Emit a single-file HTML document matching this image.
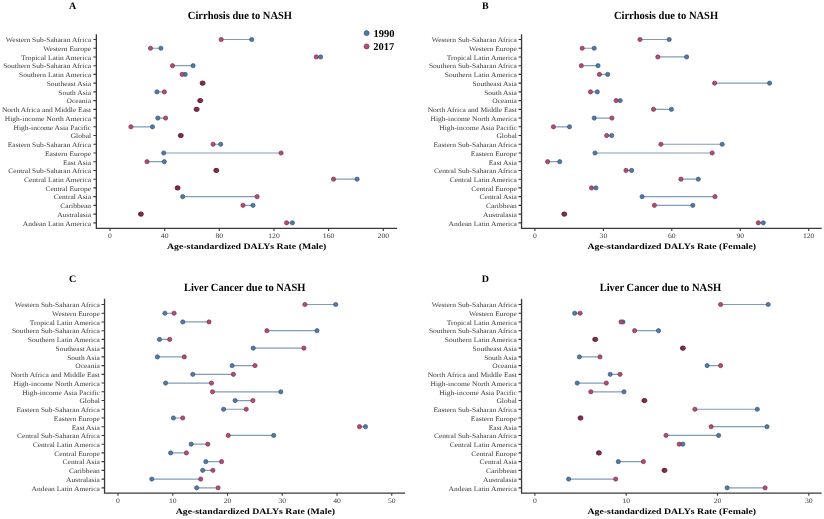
<!DOCTYPE html>
<html><head><meta charset="utf-8"><title>NASH DALYs</title>
<style>
html,body{margin:0;padding:0;background:#fff;}
body{width:824px;height:519px;overflow:hidden;}
svg{display:block;will-change:transform;}
text{font-family:"Liberation Serif","Times New Roman",serif;text-rendering:geometricPrecision;}
.pl{font-size:10px;font-weight:bold;fill:#000;text-anchor:middle;}
.ti{font-size:10.5px;font-weight:bold;fill:#000;text-anchor:middle;}
.yl{font-size:7.5px;fill:#3a3a3a;text-anchor:end;}
.xl{font-size:7.7px;fill:#3a3a3a;text-anchor:middle;}
.xt{font-size:9.8px;font-weight:bold;fill:#000;text-anchor:middle;}
.lg{font-size:10.5px;font-weight:bold;fill:#000;}
.ax{fill:none;stroke:#383838;stroke-width:1.3;}
.tk{fill:none;stroke:#383838;stroke-width:1.1;}
.sg{fill:none;stroke:#819cbb;stroke-width:1.2;}
.bl{fill:#5479a3;stroke:#33547e;stroke-width:0.7;}
.rd{fill:#ad5073;stroke:#7c2b4b;stroke-width:0.7;}
.ov{fill:#84304f;stroke:#5c1a36;stroke-width:0.7;}
</style></head>
<body>
<svg width="824" height="519" viewBox="0 0 824 519">
<text x="72.6" y="9.2" class="pl">A</text>
<text transform="matrix(1 0 0 1.06 239.9 19.2)" class="ti">Cirrhosis due to NASH</text>
<path d="M96.35 34.3V228.3H397" class="ax"/>
<text transform="matrix(1 0 0 0.9 91.05 42.3)" class="yl">Western Sub-Saharan Africa</text>
<text transform="matrix(1 0 0 0.9 91.05 51.03)" class="yl">Western Europe</text>
<text transform="matrix(1 0 0 0.9 91.05 59.76)" class="yl">Tropical Latin America</text>
<text transform="matrix(1 0 0 0.9 91.05 68.49)" class="yl">Southern Sub-Saharan Africa</text>
<text transform="matrix(1 0 0 0.9 91.05 77.22)" class="yl">Southern Latin America</text>
<text transform="matrix(1 0 0 0.9 91.05 85.95)" class="yl">Southeast Asia</text>
<text transform="matrix(1 0 0 0.9 91.05 94.68)" class="yl">South Asia</text>
<text transform="matrix(1 0 0 0.9 91.05 103.41)" class="yl">Oceania</text>
<text transform="matrix(1 0 0 0.9 91.05 112.14)" class="yl">North Africa and Middle East</text>
<text transform="matrix(1 0 0 0.9 91.05 120.87)" class="yl">High-income North America</text>
<text transform="matrix(1 0 0 0.9 91.05 129.6)" class="yl">High-income Asia Pacific</text>
<text transform="matrix(1 0 0 0.9 91.05 138.33)" class="yl">Global</text>
<text transform="matrix(1 0 0 0.9 91.05 147.06)" class="yl">Eastern Sub-Saharan Africa</text>
<text transform="matrix(1 0 0 0.9 91.05 155.79)" class="yl">Eastern Europe</text>
<text transform="matrix(1 0 0 0.9 91.05 164.52)" class="yl">East Asia</text>
<text transform="matrix(1 0 0 0.9 91.05 173.25)" class="yl">Central Sub-Saharan Africa</text>
<text transform="matrix(1 0 0 0.9 91.05 181.98)" class="yl">Central Latin America</text>
<text transform="matrix(1 0 0 0.9 91.05 190.71)" class="yl">Central Europe</text>
<text transform="matrix(1 0 0 0.9 91.05 199.44)" class="yl">Central Asia</text>
<text transform="matrix(1 0 0 0.9 91.05 208.17)" class="yl">Caribbean</text>
<text transform="matrix(1 0 0 0.9 91.05 216.9)" class="yl">Australasia</text>
<text transform="matrix(1 0 0 0.9 91.05 225.63)" class="yl">Andean Latin America</text>
<text transform="matrix(1 0 0 0.88 110 238.3)" class="xl">0</text>
<text transform="matrix(1 0 0 0.88 164.7 238.3)" class="xl">40</text>
<text transform="matrix(1 0 0 0.88 219.3 238.3)" class="xl">80</text>
<text transform="matrix(1 0 0 0.88 274 238.3)" class="xl">120</text>
<text transform="matrix(1 0 0 0.88 328.6 238.3)" class="xl">160</text>
<text transform="matrix(1 0 0 0.88 383.3 238.3)" class="xl">200</text>
<path d="M93.35 39.5H96.35M93.35 48.23H96.35M93.35 56.96H96.35M93.35 65.69H96.35M93.35 74.42H96.35M93.35 83.15H96.35M93.35 91.88H96.35M93.35 100.61H96.35M93.35 109.34H96.35M93.35 118.07H96.35M93.35 126.8H96.35M93.35 135.53H96.35M93.35 144.26H96.35M93.35 152.99H96.35M93.35 161.72H96.35M93.35 170.45H96.35M93.35 179.18H96.35M93.35 187.91H96.35M93.35 196.64H96.35M93.35 205.37H96.35M93.35 214.1H96.35M93.35 222.83H96.35M110 228.3v2.7M164.7 228.3v2.7M219.3 228.3v2.7M274 228.3v2.7M328.6 228.3v2.7M383.3 228.3v2.7" class="tk"/>
<text transform="matrix(1 0 0 0.86 246.7 249.2)" class="xt">Age-standardized DALYs Rate (Male)</text>
<path d="M221.2 39.5H251.7M150.5 48.23H160.9M316.3 56.96H320.6M172.5 65.69H193.1M182.1 74.42H185.2M156.9 91.88H164.4M195.8 109.34H197.5M157.8 118.07H165.6M130.9 126.8H152.5M213.1 144.26H220.7M163.7 152.99H281.1M147 161.72H164.3M333.5 179.18H357.1M182.7 196.64H257.1M243 205.37H253M286.6 222.83H292.4" class="sg"/>
<circle cx="251.7" cy="39.5" r="2.1" class="bl"/>
<circle cx="221.2" cy="39.5" r="2.1" class="rd"/>
<circle cx="160.9" cy="48.23" r="2.1" class="bl"/>
<circle cx="150.5" cy="48.23" r="2.1" class="rd"/>
<circle cx="320.6" cy="56.96" r="2.1" class="bl"/>
<circle cx="316.3" cy="56.96" r="2.1" class="rd"/>
<circle cx="193.1" cy="65.69" r="2.1" class="bl"/>
<circle cx="172.5" cy="65.69" r="2.1" class="rd"/>
<circle cx="185.2" cy="74.42" r="2.1" class="bl"/>
<circle cx="182.1" cy="74.42" r="2.1" class="rd"/>
<circle cx="202.15" cy="83.15" r="2.1" class="ov"/><circle cx="203.05" cy="83.15" r="2.1" class="ov"/>
<circle cx="156.9" cy="91.88" r="2.1" class="bl"/>
<circle cx="164.4" cy="91.88" r="2.1" class="rd"/>
<circle cx="199.75" cy="100.61" r="2.1" class="ov"/><circle cx="200.65" cy="100.61" r="2.1" class="ov"/>
<circle cx="196.2" cy="109.34" r="2.1" class="ov"/><circle cx="197.1" cy="109.34" r="2.1" class="ov"/>
<circle cx="157.8" cy="118.07" r="2.1" class="bl"/>
<circle cx="165.6" cy="118.07" r="2.1" class="rd"/>
<circle cx="152.5" cy="126.8" r="2.1" class="bl"/>
<circle cx="130.9" cy="126.8" r="2.1" class="rd"/>
<circle cx="180.35" cy="135.53" r="2.1" class="ov"/><circle cx="181.25" cy="135.53" r="2.1" class="ov"/>
<circle cx="220.7" cy="144.26" r="2.1" class="bl"/>
<circle cx="213.1" cy="144.26" r="2.1" class="rd"/>
<circle cx="163.7" cy="152.99" r="2.1" class="bl"/>
<circle cx="281.1" cy="152.99" r="2.1" class="rd"/>
<circle cx="164.3" cy="161.72" r="2.1" class="bl"/>
<circle cx="147" cy="161.72" r="2.1" class="rd"/>
<circle cx="215.85" cy="170.45" r="2.1" class="ov"/><circle cx="216.75" cy="170.45" r="2.1" class="ov"/>
<circle cx="357.1" cy="179.18" r="2.1" class="bl"/>
<circle cx="333.5" cy="179.18" r="2.1" class="rd"/>
<circle cx="177.15" cy="187.91" r="2.1" class="ov"/><circle cx="178.05" cy="187.91" r="2.1" class="ov"/>
<circle cx="182.7" cy="196.64" r="2.1" class="bl"/>
<circle cx="257.1" cy="196.64" r="2.1" class="rd"/>
<circle cx="253" cy="205.37" r="2.1" class="bl"/>
<circle cx="243" cy="205.37" r="2.1" class="rd"/>
<circle cx="140.45" cy="214.1" r="2.1" class="ov"/><circle cx="141.35" cy="214.1" r="2.1" class="ov"/>
<circle cx="292.4" cy="222.83" r="2.1" class="bl"/>
<circle cx="286.6" cy="222.83" r="2.1" class="rd"/>
<text x="485.4" y="9.2" class="pl">B</text>
<text transform="matrix(1 0 0 1.06 666 19.0)" class="ti">Cirrhosis due to NASH</text>
<path d="M521.55 34.3V228.3H821.7" class="ax"/>
<text transform="matrix(1 0 0 0.9 516.85 42.3)" class="yl">Western Sub-Saharan Africa</text>
<text transform="matrix(1 0 0 0.9 516.85 51.03)" class="yl">Western Europe</text>
<text transform="matrix(1 0 0 0.9 516.85 59.76)" class="yl">Tropical Latin America</text>
<text transform="matrix(1 0 0 0.9 516.85 68.49)" class="yl">Southern Sub-Saharan Africa</text>
<text transform="matrix(1 0 0 0.9 516.85 77.22)" class="yl">Southern Latin America</text>
<text transform="matrix(1 0 0 0.9 516.85 85.95)" class="yl">Southeast Asia</text>
<text transform="matrix(1 0 0 0.9 516.85 94.68)" class="yl">South Asia</text>
<text transform="matrix(1 0 0 0.9 516.85 103.41)" class="yl">Oceania</text>
<text transform="matrix(1 0 0 0.9 516.85 112.14)" class="yl">North Africa and Middle East</text>
<text transform="matrix(1 0 0 0.9 516.85 120.87)" class="yl">High-income North America</text>
<text transform="matrix(1 0 0 0.9 516.85 129.6)" class="yl">High-income Asia Pacific</text>
<text transform="matrix(1 0 0 0.9 516.85 138.33)" class="yl">Global</text>
<text transform="matrix(1 0 0 0.9 516.85 147.06)" class="yl">Eastern Sub-Saharan Africa</text>
<text transform="matrix(1 0 0 0.9 516.85 155.79)" class="yl">Eastern Europe</text>
<text transform="matrix(1 0 0 0.9 516.85 164.52)" class="yl">East Asia</text>
<text transform="matrix(1 0 0 0.9 516.85 173.25)" class="yl">Central Sub-Saharan Africa</text>
<text transform="matrix(1 0 0 0.9 516.85 181.98)" class="yl">Central Latin America</text>
<text transform="matrix(1 0 0 0.9 516.85 190.71)" class="yl">Central Europe</text>
<text transform="matrix(1 0 0 0.9 516.85 199.44)" class="yl">Central Asia</text>
<text transform="matrix(1 0 0 0.9 516.85 208.17)" class="yl">Caribbean</text>
<text transform="matrix(1 0 0 0.9 516.85 216.9)" class="yl">Australasia</text>
<text transform="matrix(1 0 0 0.9 516.85 225.63)" class="yl">Andean Latin America</text>
<text transform="matrix(1 0 0 0.88 534.9 238.3)" class="xl">0</text>
<text transform="matrix(1 0 0 0.88 603.4 238.3)" class="xl">30</text>
<text transform="matrix(1 0 0 0.88 671.8 238.3)" class="xl">60</text>
<text transform="matrix(1 0 0 0.88 740.3 238.3)" class="xl">90</text>
<text transform="matrix(1 0 0 0.88 808.7 238.3)" class="xl">120</text>
<path d="M518.55 39.5H521.55M518.55 48.23H521.55M518.55 56.96H521.55M518.55 65.69H521.55M518.55 74.42H521.55M518.55 83.15H521.55M518.55 91.88H521.55M518.55 100.61H521.55M518.55 109.34H521.55M518.55 118.07H521.55M518.55 126.8H521.55M518.55 135.53H521.55M518.55 144.26H521.55M518.55 152.99H521.55M518.55 161.72H521.55M518.55 170.45H521.55M518.55 179.18H521.55M518.55 187.91H521.55M518.55 196.64H521.55M518.55 205.37H521.55M518.55 214.1H521.55M518.55 222.83H521.55M534.9 228.3v2.7M603.4 228.3v2.7M671.8 228.3v2.7M740.3 228.3v2.7M808.7 228.3v2.7" class="tk"/>
<text transform="matrix(1 0 0 0.86 671.8 249.2)" class="xt">Age-standardized DALYs Rate (Female)</text>
<path d="M640 39.5H669.2M582.2 48.23H594.2M657.8 56.96H686.6M581.3 65.69H598M599.4 74.42H607.7M714.6 83.15H769.6M590.5 91.88H597.3M616.1 100.61H620.2M653.5 109.34H671.4M594.2 118.07H611.9M553.4 126.8H569.5M606.7 135.53H611.7M660.9 144.26H722.2M595 152.99H712.2M547.6 161.72H559.7M626 170.45H631.6M680.9 179.18H698.3M591.5 187.91H596M642.1 196.64H715M654.4 205.37H692.8M758.3 222.83H763.3" class="sg"/>
<circle cx="669.2" cy="39.5" r="2.1" class="bl"/>
<circle cx="640" cy="39.5" r="2.1" class="rd"/>
<circle cx="594.2" cy="48.23" r="2.1" class="bl"/>
<circle cx="582.2" cy="48.23" r="2.1" class="rd"/>
<circle cx="686.6" cy="56.96" r="2.1" class="bl"/>
<circle cx="657.8" cy="56.96" r="2.1" class="rd"/>
<circle cx="598" cy="65.69" r="2.1" class="bl"/>
<circle cx="581.3" cy="65.69" r="2.1" class="rd"/>
<circle cx="607.7" cy="74.42" r="2.1" class="bl"/>
<circle cx="599.4" cy="74.42" r="2.1" class="rd"/>
<circle cx="769.6" cy="83.15" r="2.1" class="bl"/>
<circle cx="714.6" cy="83.15" r="2.1" class="rd"/>
<circle cx="597.3" cy="91.88" r="2.1" class="bl"/>
<circle cx="590.5" cy="91.88" r="2.1" class="rd"/>
<circle cx="620.2" cy="100.61" r="2.1" class="bl"/>
<circle cx="616.1" cy="100.61" r="2.1" class="rd"/>
<circle cx="671.4" cy="109.34" r="2.1" class="bl"/>
<circle cx="653.5" cy="109.34" r="2.1" class="rd"/>
<circle cx="594.2" cy="118.07" r="2.1" class="bl"/>
<circle cx="611.9" cy="118.07" r="2.1" class="rd"/>
<circle cx="569.5" cy="126.8" r="2.1" class="bl"/>
<circle cx="553.4" cy="126.8" r="2.1" class="rd"/>
<circle cx="611.7" cy="135.53" r="2.1" class="bl"/>
<circle cx="606.7" cy="135.53" r="2.1" class="rd"/>
<circle cx="722.2" cy="144.26" r="2.1" class="bl"/>
<circle cx="660.9" cy="144.26" r="2.1" class="rd"/>
<circle cx="595" cy="152.99" r="2.1" class="bl"/>
<circle cx="712.2" cy="152.99" r="2.1" class="rd"/>
<circle cx="559.7" cy="161.72" r="2.1" class="bl"/>
<circle cx="547.6" cy="161.72" r="2.1" class="rd"/>
<circle cx="631.6" cy="170.45" r="2.1" class="bl"/>
<circle cx="626" cy="170.45" r="2.1" class="rd"/>
<circle cx="698.3" cy="179.18" r="2.1" class="bl"/>
<circle cx="680.9" cy="179.18" r="2.1" class="rd"/>
<circle cx="596" cy="187.91" r="2.1" class="bl"/>
<circle cx="591.5" cy="187.91" r="2.1" class="rd"/>
<circle cx="642.1" cy="196.64" r="2.1" class="bl"/>
<circle cx="715" cy="196.64" r="2.1" class="rd"/>
<circle cx="692.8" cy="205.37" r="2.1" class="bl"/>
<circle cx="654.4" cy="205.37" r="2.1" class="rd"/>
<circle cx="563.85" cy="214.1" r="2.1" class="ov"/><circle cx="564.75" cy="214.1" r="2.1" class="ov"/>
<circle cx="763.3" cy="222.83" r="2.1" class="bl"/>
<circle cx="758.3" cy="222.83" r="2.1" class="rd"/>
<text x="72.7" y="281.5" class="pl">C</text>
<text transform="matrix(1 0 0 1.06 244.7 290.6)" class="ti">Liver Cancer due to NASH</text>
<path d="M104.55 298.8V493.1H405" class="ax"/>
<text transform="matrix(1 0 0 0.9 99.85 307.3)" class="yl">Western Sub-Saharan Africa</text>
<text transform="matrix(1 0 0 0.9 99.85 316.03)" class="yl">Western Europe</text>
<text transform="matrix(1 0 0 0.9 99.85 324.76)" class="yl">Tropical Latin America</text>
<text transform="matrix(1 0 0 0.9 99.85 333.49)" class="yl">Southern Sub-Saharan Africa</text>
<text transform="matrix(1 0 0 0.9 99.85 342.22)" class="yl">Southern Latin America</text>
<text transform="matrix(1 0 0 0.9 99.85 350.95)" class="yl">Southeast Asia</text>
<text transform="matrix(1 0 0 0.9 99.85 359.68)" class="yl">South Asia</text>
<text transform="matrix(1 0 0 0.9 99.85 368.41)" class="yl">Oceania</text>
<text transform="matrix(1 0 0 0.9 99.85 377.14)" class="yl">North Africa and Middle East</text>
<text transform="matrix(1 0 0 0.9 99.85 385.87)" class="yl">High-income North America</text>
<text transform="matrix(1 0 0 0.9 99.85 394.6)" class="yl">High-income Asia Pacific</text>
<text transform="matrix(1 0 0 0.9 99.85 403.33)" class="yl">Global</text>
<text transform="matrix(1 0 0 0.9 99.85 412.06)" class="yl">Eastern Sub-Saharan Africa</text>
<text transform="matrix(1 0 0 0.9 99.85 420.79)" class="yl">Eastern Europe</text>
<text transform="matrix(1 0 0 0.9 99.85 429.52)" class="yl">East Asia</text>
<text transform="matrix(1 0 0 0.9 99.85 438.25)" class="yl">Central Sub-Saharan Africa</text>
<text transform="matrix(1 0 0 0.9 99.85 446.98)" class="yl">Central Latin America</text>
<text transform="matrix(1 0 0 0.9 99.85 455.71)" class="yl">Central Europe</text>
<text transform="matrix(1 0 0 0.9 99.85 464.44)" class="yl">Central Asia</text>
<text transform="matrix(1 0 0 0.9 99.85 473.17)" class="yl">Caribbean</text>
<text transform="matrix(1 0 0 0.9 99.85 481.9)" class="yl">Australasia</text>
<text transform="matrix(1 0 0 0.9 99.85 490.63)" class="yl">Andean Latin America</text>
<text transform="matrix(1 0 0 0.88 118 503.3)" class="xl">0</text>
<text transform="matrix(1 0 0 0.88 172.75 503.3)" class="xl">10</text>
<text transform="matrix(1 0 0 0.88 227.5 503.3)" class="xl">20</text>
<text transform="matrix(1 0 0 0.88 282.25 503.3)" class="xl">30</text>
<text transform="matrix(1 0 0 0.88 337 503.3)" class="xl">40</text>
<text transform="matrix(1 0 0 0.88 391.75 503.3)" class="xl">50</text>
<path d="M101.55 304.5H104.55M101.55 313.23H104.55M101.55 321.96H104.55M101.55 330.69H104.55M101.55 339.42H104.55M101.55 348.15H104.55M101.55 356.88H104.55M101.55 365.61H104.55M101.55 374.34H104.55M101.55 383.07H104.55M101.55 391.8H104.55M101.55 400.53H104.55M101.55 409.26H104.55M101.55 417.99H104.55M101.55 426.72H104.55M101.55 435.45H104.55M101.55 444.18H104.55M101.55 452.91H104.55M101.55 461.64H104.55M101.55 470.37H104.55M101.55 479.1H104.55M101.55 487.83H104.55M118 493.1v2.7M172.75 493.1v2.7M227.5 493.1v2.7M282.25 493.1v2.7M337 493.1v2.7M391.75 493.1v2.7" class="tk"/>
<text transform="matrix(1 0 0 0.86 255.4 514.2)" class="xt">Age-standardized DALYs Rate (Male)</text>
<path d="M304.9 304.5H335.7M164.9 313.23H174.1M182.8 321.96H209M266.9 330.69H317M159.5 339.42H169.7M253.2 348.15H303.9M157.4 356.88H184.3M232.1 365.61H255M192.8 374.34H233.4M165.6 383.07H211.5M212.5 391.8H280.8M235.1 400.53H252.9M223.6 409.26H246.2M173.4 417.99H182.7M359.5 426.72H365.5M228.2 435.45H273.7M191.2 444.18H207.8M170.6 452.91H186.4M205.8 461.64H221.6M202.7 470.37H212.9M151.8 479.1H200.7M196.7 487.83H218.1" class="sg"/>
<circle cx="335.7" cy="304.5" r="2.1" class="bl"/>
<circle cx="304.9" cy="304.5" r="2.1" class="rd"/>
<circle cx="164.9" cy="313.23" r="2.1" class="bl"/>
<circle cx="174.1" cy="313.23" r="2.1" class="rd"/>
<circle cx="182.8" cy="321.96" r="2.1" class="bl"/>
<circle cx="209" cy="321.96" r="2.1" class="rd"/>
<circle cx="317" cy="330.69" r="2.1" class="bl"/>
<circle cx="266.9" cy="330.69" r="2.1" class="rd"/>
<circle cx="159.5" cy="339.42" r="2.1" class="bl"/>
<circle cx="169.7" cy="339.42" r="2.1" class="rd"/>
<circle cx="253.2" cy="348.15" r="2.1" class="bl"/>
<circle cx="303.9" cy="348.15" r="2.1" class="rd"/>
<circle cx="157.4" cy="356.88" r="2.1" class="bl"/>
<circle cx="184.3" cy="356.88" r="2.1" class="rd"/>
<circle cx="232.1" cy="365.61" r="2.1" class="bl"/>
<circle cx="255" cy="365.61" r="2.1" class="rd"/>
<circle cx="192.8" cy="374.34" r="2.1" class="bl"/>
<circle cx="233.4" cy="374.34" r="2.1" class="rd"/>
<circle cx="165.6" cy="383.07" r="2.1" class="bl"/>
<circle cx="211.5" cy="383.07" r="2.1" class="rd"/>
<circle cx="280.8" cy="391.8" r="2.1" class="bl"/>
<circle cx="212.5" cy="391.8" r="2.1" class="rd"/>
<circle cx="235.1" cy="400.53" r="2.1" class="bl"/>
<circle cx="252.9" cy="400.53" r="2.1" class="rd"/>
<circle cx="223.6" cy="409.26" r="2.1" class="bl"/>
<circle cx="246.2" cy="409.26" r="2.1" class="rd"/>
<circle cx="173.4" cy="417.99" r="2.1" class="bl"/>
<circle cx="182.7" cy="417.99" r="2.1" class="rd"/>
<circle cx="365.5" cy="426.72" r="2.1" class="bl"/>
<circle cx="359.5" cy="426.72" r="2.1" class="rd"/>
<circle cx="273.7" cy="435.45" r="2.1" class="bl"/>
<circle cx="228.2" cy="435.45" r="2.1" class="rd"/>
<circle cx="191.2" cy="444.18" r="2.1" class="bl"/>
<circle cx="207.8" cy="444.18" r="2.1" class="rd"/>
<circle cx="170.6" cy="452.91" r="2.1" class="bl"/>
<circle cx="186.4" cy="452.91" r="2.1" class="rd"/>
<circle cx="205.8" cy="461.64" r="2.1" class="bl"/>
<circle cx="221.6" cy="461.64" r="2.1" class="rd"/>
<circle cx="202.7" cy="470.37" r="2.1" class="bl"/>
<circle cx="212.9" cy="470.37" r="2.1" class="rd"/>
<circle cx="151.8" cy="479.1" r="2.1" class="bl"/>
<circle cx="200.7" cy="479.1" r="2.1" class="rd"/>
<circle cx="196.7" cy="487.83" r="2.1" class="bl"/>
<circle cx="218.1" cy="487.83" r="2.1" class="rd"/>
<text x="485.4" y="281.5" class="pl">D</text>
<text transform="matrix(1 0 0 1.06 660.4 290.6)" class="ti">Liver Cancer due to NASH</text>
<path d="M521.55 298.8V493.1H821.7" class="ax"/>
<text transform="matrix(1 0 0 0.9 516.85 307.3)" class="yl">Western Sub-Saharan Africa</text>
<text transform="matrix(1 0 0 0.9 516.85 316.03)" class="yl">Western Europe</text>
<text transform="matrix(1 0 0 0.9 516.85 324.76)" class="yl">Tropical Latin America</text>
<text transform="matrix(1 0 0 0.9 516.85 333.49)" class="yl">Southern Sub-Saharan Africa</text>
<text transform="matrix(1 0 0 0.9 516.85 342.22)" class="yl">Southern Latin America</text>
<text transform="matrix(1 0 0 0.9 516.85 350.95)" class="yl">Southeast Asia</text>
<text transform="matrix(1 0 0 0.9 516.85 359.68)" class="yl">South Asia</text>
<text transform="matrix(1 0 0 0.9 516.85 368.41)" class="yl">Oceania</text>
<text transform="matrix(1 0 0 0.9 516.85 377.14)" class="yl">North Africa and Middle East</text>
<text transform="matrix(1 0 0 0.9 516.85 385.87)" class="yl">High-income North America</text>
<text transform="matrix(1 0 0 0.9 516.85 394.6)" class="yl">High-income Asia Pacific</text>
<text transform="matrix(1 0 0 0.9 516.85 403.33)" class="yl">Global</text>
<text transform="matrix(1 0 0 0.9 516.85 412.06)" class="yl">Eastern Sub-Saharan Africa</text>
<text transform="matrix(1 0 0 0.9 516.85 420.79)" class="yl">Eastern Europe</text>
<text transform="matrix(1 0 0 0.9 516.85 429.52)" class="yl">East Asia</text>
<text transform="matrix(1 0 0 0.9 516.85 438.25)" class="yl">Central Sub-Saharan Africa</text>
<text transform="matrix(1 0 0 0.9 516.85 446.98)" class="yl">Central Latin America</text>
<text transform="matrix(1 0 0 0.9 516.85 455.71)" class="yl">Central Europe</text>
<text transform="matrix(1 0 0 0.9 516.85 464.44)" class="yl">Central Asia</text>
<text transform="matrix(1 0 0 0.9 516.85 473.17)" class="yl">Caribbean</text>
<text transform="matrix(1 0 0 0.9 516.85 481.9)" class="yl">Australasia</text>
<text transform="matrix(1 0 0 0.9 516.85 490.63)" class="yl">Andean Latin America</text>
<text transform="matrix(1 0 0 0.88 534.9 503.3)" class="xl">0</text>
<text transform="matrix(1 0 0 0.88 626.2 503.3)" class="xl">10</text>
<text transform="matrix(1 0 0 0.88 717.5 503.3)" class="xl">20</text>
<text transform="matrix(1 0 0 0.88 808.8 503.3)" class="xl">30</text>
<path d="M518.55 304.5H521.55M518.55 313.23H521.55M518.55 321.96H521.55M518.55 330.69H521.55M518.55 339.42H521.55M518.55 348.15H521.55M518.55 356.88H521.55M518.55 365.61H521.55M518.55 374.34H521.55M518.55 383.07H521.55M518.55 391.8H521.55M518.55 400.53H521.55M518.55 409.26H521.55M518.55 417.99H521.55M518.55 426.72H521.55M518.55 435.45H521.55M518.55 444.18H521.55M518.55 452.91H521.55M518.55 461.64H521.55M518.55 470.37H521.55M518.55 479.1H521.55M518.55 487.83H521.55M534.9 493.1v2.7M626.2 493.1v2.7M717.5 493.1v2.7M808.8 493.1v2.7" class="tk"/>
<text transform="matrix(1 0 0 0.86 671.8 514.2)" class="xt">Age-standardized DALYs Rate (Female)</text>
<path d="M720.6 304.5H768.2M574.7 313.23H580.1M621 321.96H623M634.6 330.69H658.5M579.4 356.88H600M707.1 365.61H720.6M610.2 374.34H620M577.2 383.07H606.3M590.8 391.8H624M694.9 409.26H757.3M711.1 426.72H767M666 435.45H718.6M679.2 444.18H682.8M618.3 461.64H643.4M568.6 479.1H615.7M727.1 487.83H765.1" class="sg"/>
<circle cx="768.2" cy="304.5" r="2.1" class="bl"/>
<circle cx="720.6" cy="304.5" r="2.1" class="rd"/>
<circle cx="574.7" cy="313.23" r="2.1" class="bl"/>
<circle cx="580.1" cy="313.23" r="2.1" class="rd"/>
<circle cx="623" cy="321.96" r="2.1" class="bl"/>
<circle cx="621" cy="321.96" r="2.1" class="rd"/>
<circle cx="658.5" cy="330.69" r="2.1" class="bl"/>
<circle cx="634.6" cy="330.69" r="2.1" class="rd"/>
<circle cx="594.75" cy="339.42" r="2.1" class="ov"/><circle cx="595.65" cy="339.42" r="2.1" class="ov"/>
<circle cx="682.45" cy="348.15" r="2.1" class="ov"/><circle cx="683.35" cy="348.15" r="2.1" class="ov"/>
<circle cx="579.4" cy="356.88" r="2.1" class="bl"/>
<circle cx="600" cy="356.88" r="2.1" class="rd"/>
<circle cx="707.1" cy="365.61" r="2.1" class="bl"/>
<circle cx="720.6" cy="365.61" r="2.1" class="rd"/>
<circle cx="610.2" cy="374.34" r="2.1" class="bl"/>
<circle cx="620" cy="374.34" r="2.1" class="rd"/>
<circle cx="577.2" cy="383.07" r="2.1" class="bl"/>
<circle cx="606.3" cy="383.07" r="2.1" class="rd"/>
<circle cx="624" cy="391.8" r="2.1" class="bl"/>
<circle cx="590.8" cy="391.8" r="2.1" class="rd"/>
<circle cx="643.95" cy="400.53" r="2.1" class="ov"/><circle cx="644.85" cy="400.53" r="2.1" class="ov"/>
<circle cx="757.3" cy="409.26" r="2.1" class="bl"/>
<circle cx="694.9" cy="409.26" r="2.1" class="rd"/>
<circle cx="580.05" cy="417.99" r="2.1" class="ov"/><circle cx="580.95" cy="417.99" r="2.1" class="ov"/>
<circle cx="767" cy="426.72" r="2.1" class="bl"/>
<circle cx="711.1" cy="426.72" r="2.1" class="rd"/>
<circle cx="718.6" cy="435.45" r="2.1" class="bl"/>
<circle cx="666" cy="435.45" r="2.1" class="rd"/>
<circle cx="682.8" cy="444.18" r="2.1" class="bl"/>
<circle cx="679.2" cy="444.18" r="2.1" class="rd"/>
<circle cx="598.45" cy="452.91" r="2.1" class="ov"/><circle cx="599.35" cy="452.91" r="2.1" class="ov"/>
<circle cx="618.3" cy="461.64" r="2.1" class="bl"/>
<circle cx="643.4" cy="461.64" r="2.1" class="rd"/>
<circle cx="664.05" cy="470.37" r="2.1" class="ov"/><circle cx="664.95" cy="470.37" r="2.1" class="ov"/>
<circle cx="568.6" cy="479.1" r="2.1" class="bl"/>
<circle cx="615.7" cy="479.1" r="2.1" class="rd"/>
<circle cx="727.1" cy="487.83" r="2.1" class="bl"/>
<circle cx="765.1" cy="487.83" r="2.1" class="rd"/>
<circle cx="366.6" cy="33.1" r="2.5" class="bl"/><circle cx="366.6" cy="46.4" r="2.5" class="rd"/>
<text x="373.6" y="36.6" class="lg">1990</text><text x="373.3" y="50" class="lg">2017</text>
</svg>
</body></html>
